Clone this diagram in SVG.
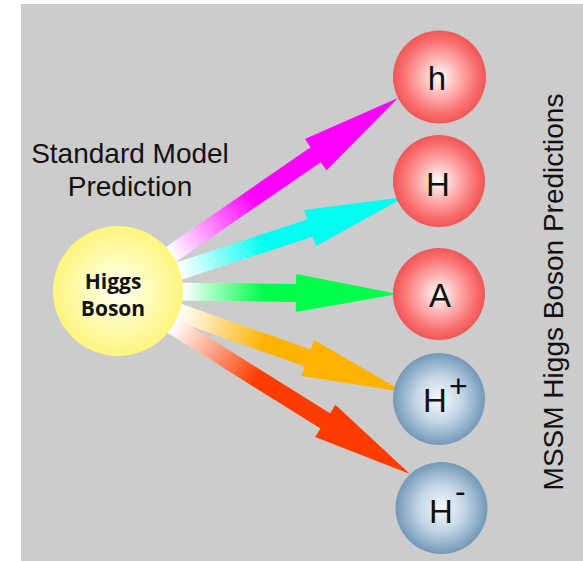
<svg xmlns="http://www.w3.org/2000/svg" width="583" height="561" viewBox="0 0 583 561">
<defs>
<style>
.lbl{font-family:"Liberation Sans",Arial,sans-serif;fill:#111;}
.big{font-size:28px;}
.sym{font-size:33px;text-anchor:middle;}
.hb{font-family:"Open Sans","DejaVu Sans",sans-serif;font-weight:bold;font-size:21px;fill:#111;text-anchor:middle;}
</style>
<radialGradient id="gRed" cx="50%" cy="50%" r="50%">
<stop offset="0" stop-color="#ffffff"/>
<stop offset="0.4" stop-color="#ffb4b4"/>
<stop offset="0.8" stop-color="#fa6e6e"/>
<stop offset="1" stop-color="#f05656"/>
</radialGradient>
<radialGradient id="gBlue" cx="50%" cy="50%" r="50%">
<stop offset="0" stop-color="#f6f9fc"/>
<stop offset="0.5" stop-color="#c4d6e6"/>
<stop offset="1" stop-color="#7398b8"/>
</radialGradient>
<radialGradient id="gYel" cx="50%" cy="50%" r="50%">
<stop offset="0" stop-color="#fffff4"/>
<stop offset="0.5" stop-color="#fffcb8"/>
<stop offset="1" stop-color="#fff57e"/>
</radialGradient>
<linearGradient id="aMag" gradientUnits="userSpaceOnUse" x1="-275" y1="0" x2="-175" y2="0">
<stop offset="0" stop-color="#ffffff"/><stop offset="1" stop-color="#ff00ff"/>
</linearGradient>
<linearGradient id="aCya" gradientUnits="userSpaceOnUse" x1="-237" y1="0" x2="-147" y2="0">
<stop offset="0" stop-color="#ffffff"/><stop offset="1" stop-color="#00fff0"/>
</linearGradient>
<linearGradient id="aGrn" gradientUnits="userSpaceOnUse" x1="-215" y1="0" x2="-135" y2="0">
<stop offset="0" stop-color="#ffffff"/><stop offset="1" stop-color="#00ff4c"/>
</linearGradient>
<linearGradient id="aOra" gradientUnits="userSpaceOnUse" x1="-238" y1="0" x2="-148" y2="0">
<stop offset="0" stop-color="#ffffff"/><stop offset="1" stop-color="#ffb300"/>
</linearGradient>
<linearGradient id="aRed" gradientUnits="userSpaceOnUse" x1="-280" y1="0" x2="-180" y2="0">
<stop offset="0" stop-color="#ffffff"/><stop offset="1" stop-color="#ff3c00"/>
</linearGradient>
</defs>
<rect x="0" y="0" width="583" height="561" fill="#ffffff"/>
<rect x="21" y="4" width="562" height="557" fill="#cccccc"/>

<g id="connectors">
<polygon transform="translate(398,98) rotate(-34.58)" fill="url(#aMag)" points="-340,-9 -100,-9 -100,-19 0,0 -100,19 -100,9 -340,9"/>
<polygon transform="translate(405,197) rotate(-18.13)" fill="url(#aCya)" points="-302,-9 -100,-9 -100,-19 0,0 -100,19 -100,9 -302,9"/>
<polygon transform="translate(398,294) rotate(0.6)" fill="url(#aGrn)" points="-280,-9 -102,-9 -102,-19 0,0 -102,19 -102,9 -280,9"/>
<polygon transform="translate(404,392) rotate(19.45)" fill="url(#aOra)" points="-303,-9 -102,-9 -102,-19 0,0 -102,19 -102,9 -303,9"/>
<polygon transform="translate(410,474) rotate(32.07)" fill="url(#aRed)" points="-345,-9 -100,-9 -100,-19 0,0 -100,19 -100,9 -345,9"/>
</g>

<g id="higgs">
<circle cx="118" cy="291" r="65" fill="url(#gYel)"/>
<text class="hb" x="113" y="289">Higgs</text>
<text class="hb" x="113" y="316">Boson</text>
</g>

<g id="node-h">
<circle cx="439.5" cy="77" r="46.5" fill="url(#gRed)"/>
<text class="lbl sym" x="437" y="90">h</text>
</g>
<g id="node-H">
<circle cx="439" cy="181" r="46" fill="url(#gRed)"/>
<text class="lbl sym" x="438" y="196">H</text>
</g>
<g id="node-A">
<circle cx="439" cy="294" r="46" fill="url(#gRed)"/>
<text class="lbl sym" x="440" y="307">A</text>
</g>
<g id="node-Hplus">
<circle cx="439" cy="399" r="46" fill="url(#gBlue)"/>
<text class="lbl sym" x="435" y="412">H</text>
<text class="lbl" font-size="32" x="449" y="397">+</text>
</g>
<g id="node-Hminus">
<circle cx="441.5" cy="508" r="46" fill="url(#gBlue)"/>
<text class="lbl sym" x="441" y="523">H</text>
<text class="lbl" font-size="32" x="455" y="502">-</text>
</g>

<g id="labels">
<text class="lbl big" x="130" y="163" text-anchor="middle">Standard Model</text>
<text class="lbl big" x="130" y="196" text-anchor="middle">Prediction</text>
<text class="lbl big" text-anchor="middle" transform="translate(563,292) rotate(-90)">MSSM Higgs Boson Predictions</text>
</g>
</svg>
